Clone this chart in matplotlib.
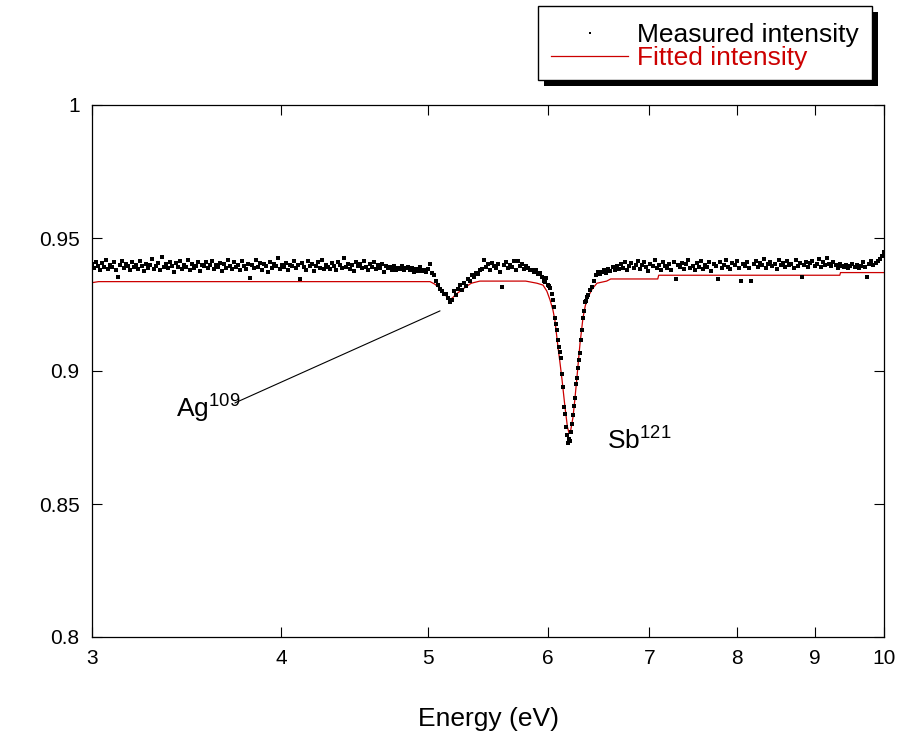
import numpy as np
import matplotlib
matplotlib.use("Agg")
from matplotlib import pyplot as plt
from matplotlib.patches import Rectangle
from matplotlib.ticker import FixedLocator, FixedFormatter, NullLocator

plt.rcParams['font.family'] = ['Liberation Sans', 'DejaVu Sans']
plt.rcParams['mathtext.fontset'] = 'custom'
plt.rcParams['mathtext.rm'] = 'Liberation Sans'
plt.rcParams['mathtext.it'] = 'Liberation Sans'

# ---- measured intensity: flat parts on a regular energy grid ----
left_range = (3.0, 4.969)
left_y = [
    0.9402, 0.9388, 0.9411, 0.9396, 0.9379, 0.9405, 0.9392, 0.9417, 0.9384, 0.9399,
    0.9390, 0.9408, 0.9381, 0.9352, 0.9397, 0.9412, 0.9386, 0.9403, 0.9394, 0.9378,
    0.9409, 0.9391, 0.9400, 0.9385, 0.9415, 0.9393, 0.9376, 0.9404, 0.9389, 0.9398,
    0.9421, 0.9383, 0.9396, 0.9407, 0.9380, 0.9430, 0.9392, 0.9401, 0.9387, 0.9410,
    0.9395, 0.9374, 0.9406, 0.9390, 0.9413, 0.9384, 0.9399, 0.9392, 0.9419, 0.9381,
    0.9403, 0.9388, 0.9395, 0.9411, 0.9377, 0.9400, 0.9393, 0.9408, 0.9386, 0.9397,
    0.9414, 0.9382, 0.9399, 0.9390, 0.9405, 0.9375, 0.9402, 0.9388, 0.9416, 0.9394,
    0.9385, 0.9409, 0.9391, 0.9400, 0.9379, 0.9412, 0.9396, 0.9383, 0.9404, 0.9350,
    0.9398, 0.9389, 0.9418, 0.9392, 0.9406, 0.9380, 0.9401, 0.9395, 0.9373, 0.9410,
    0.9387, 0.9403, 0.9394, 0.9424, 0.9384, 0.9398, 0.9391, 0.9407, 0.9378, 0.9400,
    0.9393, 0.9412, 0.9386, 0.9399, 0.9346, 0.9405, 0.9390, 0.9381, 0.9414, 0.9396,
    0.9402, 0.9377, 0.9395, 0.9408, 0.9389, 0.9419, 0.9385, 0.9400, 0.9392, 0.9382,
    0.9406, 0.9394, 0.9380, 0.9411, 0.9397, 0.9388, 0.9426, 0.9391, 0.9403, 0.9384,
    0.9399, 0.9376, 0.9409, 0.9393, 0.9401, 0.9386, 0.9415, 0.9390, 0.9379, 0.9404,
    0.9392, 0.9408, 0.9383, 0.9397, 0.9388, 0.9402, 0.9374, 0.9395, 0.9386, 0.9390,
    0.9381, 0.9393, 0.9378, 0.9389, 0.9384, 0.9396, 0.9380, 0.9387, 0.9392, 0.9379,
    0.9386, 0.9372, 0.9383, 0.9377, 0.9390, 0.9375, 0.9381,
]

mid_range = (5.428, 5.838)
mid_y = [
    0.9385, 0.9417, 0.9392, 0.9401, 0.9379, 0.9406, 0.9395, 0.9388, 0.9404, 0.9373,
    0.9316, 0.9397, 0.9409, 0.9386, 0.9399, 0.9390, 0.9412, 0.9381, 0.9415, 0.9393,
    0.9402, 0.9384, 0.9396, 0.9389, 0.9380,
]

right_range = (6.514, 10.0)
right_y = [
    0.9372, 0.9380, 0.9368, 0.9385, 0.9376, 0.9390, 0.9378, 0.9396, 0.9384, 0.9401,
    0.9388, 0.9410, 0.9379, 0.9393, 0.9405, 0.9386, 0.9399, 0.9414, 0.9382, 0.9397,
    0.9408, 0.9390, 0.9376, 0.9402, 0.9393, 0.9418, 0.9387, 0.9400, 0.9381, 0.9409,
    0.9395, 0.9389, 0.9404, 0.9380, 0.9411, 0.9345, 0.9398, 0.9392, 0.9407, 0.9384,
    0.9401, 0.9416, 0.9388, 0.9396, 0.9379, 0.9405, 0.9391, 0.9413, 0.9385, 0.9399,
    0.9390, 0.9408, 0.9376, 0.9402, 0.9394, 0.9346, 0.9410, 0.9387, 0.9400, 0.9419,
    0.9392, 0.9383, 0.9405, 0.9397, 0.9412, 0.9388, 0.9338, 0.9401, 0.9395, 0.9409,
    0.9386, 0.9340, 0.9403, 0.9415, 0.9392, 0.9407, 0.9398, 0.9422, 0.9389, 0.9404,
    0.9411, 0.9395, 0.9401, 0.9385, 0.9418, 0.9399, 0.9406, 0.9391, 0.9413, 0.9397,
    0.9402, 0.9388, 0.9416, 0.9394, 0.9407, 0.9355, 0.9399, 0.9410, 0.9390, 0.9405,
    0.9414, 0.9396, 0.9403, 0.9420, 0.9392, 0.9408, 0.9398, 0.9426, 0.9401, 0.9393,
    0.9409, 0.9397, 0.9387, 0.9402, 0.9393, 0.9390, 0.9399, 0.9386, 0.9395, 0.9404,
    0.9391, 0.9400, 0.9388, 0.9396, 0.9410, 0.9392, 0.9354, 0.9402, 0.9415, 0.9398,
    0.9406, 0.9412, 0.9420, 0.9433, 0.9447,
]

# ---- measured intensity around the two resonances ----
ag_x = [4.985, 5.000, 5.015, 5.030, 5.046, 5.061, 5.076, 5.092, 5.107, 5.123,
        5.138, 5.154, 5.170, 5.186, 5.201, 5.217, 5.233, 5.249, 5.265, 5.281,
        5.297, 5.313, 5.329, 5.346, 5.362, 5.378, 5.395, 5.411]
ag_y = [0.9372, 0.9385, 0.9402, 0.9370, 0.9360, 0.9338, 0.9322, 0.9310, 0.9300, 0.9288,
        0.9290, 0.9275, 0.9260, 0.9268, 0.9300, 0.9285, 0.9310, 0.9322, 0.9305, 0.9330,
        0.9318, 0.9345, 0.9340, 0.9360, 0.9352, 0.9370, 0.9365, 0.9380]

sb_x = [5.856, 5.874, 5.892, 5.910, 5.928, 5.946, 5.964, 5.973, 5.982, 6.000,
        6.010, 6.019, 6.037, 6.046, 6.055, 6.065, 6.074, 6.083, 6.092, 6.102,
        6.111, 6.120, 6.129, 6.139, 6.148, 6.158, 6.167, 6.176, 6.186, 6.195,
        6.204, 6.214, 6.223, 6.233, 6.242, 6.252, 6.261, 6.271, 6.280, 6.290,
        6.300, 6.309, 6.319, 6.328, 6.338, 6.348, 6.357, 6.367, 6.377, 6.396,
        6.415, 6.435, 6.455, 6.474, 6.494]
sb_y = [0.9378, 0.9372, 0.9381, 0.9365, 0.9369, 0.9352, 0.9340, 0.9335, 0.9348, 0.9325,
        0.9318, 0.9312, 0.9290, 0.9267, 0.9240, 0.9200, 0.9175, 0.9154, 0.9117, 0.9090,
        0.9070, 0.9049, 0.8990, 0.8940, 0.8865, 0.8840, 0.8790, 0.8760, 0.8728, 0.8745,
        0.8735, 0.8770, 0.8800, 0.8835, 0.8870, 0.8900, 0.8950, 0.8975, 0.9010, 0.9040,
        0.9068, 0.9117, 0.9154, 0.9200, 0.9225, 0.9260, 0.9265, 0.9280, 0.9286, 0.9305,
        0.9316, 0.9340, 0.9360, 0.9372, 0.9366]

# ---- fitted intensity ----
fit_x = [3.00, 3.03, 4.97, 5.015, 5.05, 5.09, 5.12, 5.162, 5.19, 5.22,
         5.265, 5.30, 5.34, 5.41, 5.80, 5.838, 5.90, 5.955, 5.99, 6.019,
         6.045, 6.064, 6.092, 6.111, 6.13, 6.157, 6.18, 6.195, 6.21, 6.233,
         6.252, 6.271, 6.30, 6.328, 6.35, 6.376, 6.42, 6.464, 6.56, 6.60,
         7.09, 7.10, 9.35, 9.36, 10.0]
fit_y = [0.9332, 0.9336, 0.9336, 0.9336, 0.9327, 0.9312, 0.9295, 0.9267, 0.9275, 0.9290,
         0.9305, 0.9318, 0.9330, 0.9338, 0.9338, 0.9335, 0.9330, 0.9323, 0.9300, 0.9267,
         0.9230, 0.9190, 0.9090, 0.9030, 0.8966, 0.8865, 0.8790, 0.8767, 0.8775, 0.8827,
         0.8900, 0.8980, 0.9105, 0.9200, 0.9245, 0.9278, 0.9310, 0.9330, 0.9338, 0.9346,
         0.9346, 0.9360, 0.9360, 0.9370, 0.9370]

x_ticks = [3, 4, 5, 6, 7, 8, 9, 10]
y_ticks = [0.8, 0.85, 0.9, 0.95, 1.0]
y_tick_labels = ['0.8', '0.85', '0.9', '0.95', '1']

ag_label_xy = (3.409, 0.8823)
ag_line_start = (3.728, 0.8880)
ag_line_end = (5.092, 0.9226)
sb_label_xy = (6.563, 0.8703)

red = '#cc0000'
W, H = 923, 738

measured_x = np.concatenate([
    np.geomspace(*left_range, len(left_y)), ag_x,
    np.geomspace(*mid_range, len(mid_y)), sb_x,
    np.geomspace(*right_range, len(right_y)),
])
measured_y = np.concatenate([left_y, ag_y, mid_y, sb_y, right_y])

fig = plt.figure(figsize=(W / 100, H / 100), dpi=100)
ax = fig.add_axes([92 / W, 1 - 637 / H, 792 / W, 532 / H])

ax.plot(fit_x, fit_y, color=red, lw=0.9, label='Fitted intensity', zorder=2)
ax.plot(measured_x, measured_y, ls='none', marker='s', ms=2.6, mew=0,
        color='black', label='Measured intensity', zorder=3)

ax.set_xscale('log')
ax.set_xlim(3, 10)
ax.set_ylim(0.8, 1.0)
ax.xaxis.set_major_locator(FixedLocator(x_ticks))
ax.xaxis.set_major_formatter(FixedFormatter([str(t) for t in x_ticks]))
ax.xaxis.set_minor_locator(NullLocator())
ax.yaxis.set_major_locator(FixedLocator(y_ticks))
ax.yaxis.set_major_formatter(FixedFormatter(y_tick_labels))
ax.tick_params(direction='in', length=7, width=0.8, labelsize=15,
               top=True, right=True, pad=9)
for sp in ax.spines.values():
    sp.set_linewidth(0.9)

ax.set_xlabel('Energy (eV)', fontsize=19, labelpad=28)

# ---- peak labels ----
ax.text(*ag_label_xy, r'Ag$^{109}$', fontsize=19, ha='left', va='baseline')
ax.annotate('', xy=ag_line_end, xytext=ag_line_start,
            arrowprops=dict(arrowstyle='-', lw=0.8, color='black',
                            shrinkA=0, shrinkB=0))
ax.text(*sb_label_xy, r'Sb$^{121}$', fontsize=19, ha='left', va='baseline')

# ---- legend: box with a hard black shadow, drawn behind the entries ----
box_l, box_t, box_r, box_b = 538, 6, 872, 80
shadow = 6
fig.patches.append(Rectangle(((box_l + shadow) / W, 1 - (box_b + shadow) / H),
                             (box_r - box_l) / W, (box_b - box_t) / H,
                             transform=fig.transFigure, facecolor='black',
                             edgecolor='none', zorder=4))
fig.patches.append(Rectangle((box_l / W, 1 - box_b / H),
                             (box_r - box_l) / W, (box_b - box_t) / H,
                             transform=fig.transFigure, facecolor='white',
                             edgecolor='black', lw=1.0, zorder=4.5))

handles, labels = ax.get_legend_handles_labels()
leg = fig.legend(handles[::-1], labels[::-1], loc='upper right',
                 bbox_to_anchor=(box_r / W, 1 - (box_t + 4) / H), fontsize=19,
                 frameon=False, borderaxespad=0, borderpad=0.5,
                 labelspacing=-0.05, handlelength=2.9, handletextpad=0.35,
                 markerscale=0.7, labelcolor=['black', red])
leg.set_zorder(5)

fig.savefig('out.png', dpi=100)
